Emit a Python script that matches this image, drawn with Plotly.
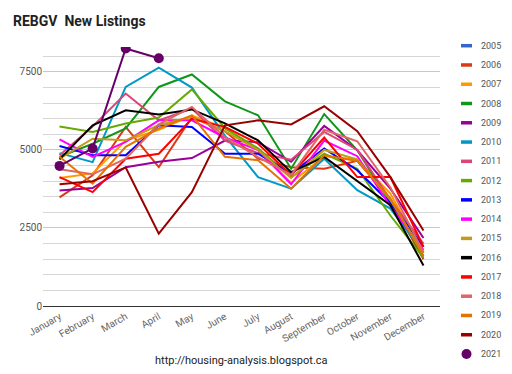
import plotly.graph_objects as go

months = ["January", "February", "March", "April", "May", "June", "July",
          "August", "September", "October", "November", "December"]

years = ["2005", "2006", "2007", "2008", "2009", "2010", "2011", "2012", "2013",
         "2014", "2015", "2016", "2017", "2018", "2019", "2020", "2021"]

colors = ["#3366cc", "#dc3912", "#ff9900", "#109618", "#990099", "#0099c6", "#dd4477",
          "#66aa00", "#0000ff", "#ff00ff", "#c49a17", "#000000", "#ff0000", "#e06666",
          "#e67300", "#990000", "#660066"]

y2005 = [None] * 12
y2006 = [3480, 4190, 5740, 4450, 6050, 5600, 4720, 4450, 4400, 4650, 3400, 1500]
y2007 = [4100, 4250, 5300, 5650, 6100, 5700, 5000, 3950, 4800, 4700, 3600, 1700]
y2008 = [4780, 5200, 5690, 7020, 7420, 6560, 6110, 4400, 6150, 4990, 3300, 1600]
y2009 = [3700, 3780, 4450, 4620, 4740, 5300, 5250, 4620, 5770, 4990, 3760, 2180]
y2010 = [4900, 4610, 7020, 7640, 7000, 5450, 4130, 3760, 4720, 3710, 3120, 1730]
y2011 = [4830, 5750, 6810, 5950, 6330, 5300, 4900, 4690, 5580, 5010, 3400, 2000]
y2012 = [5750, 5580, 5850, 6040, 6940, 5700, 5050, 4130, 4880, 4400, 2900, 1550]
y2013 = [5130, 4830, 4830, 5790, 5740, 4880, 4880, 4240, 5050, 4350, 3300, 1900]
y2014 = [5340, 4780, 5260, 5950, 5950, 5400, 5000, 3900, 5300, 4800, 3200, 1800]
y2015 = [4720, 5360, 5310, 5800, 6060, 5600, 5000, 4100, 5000, 4700, 3400, 1700]
y2016 = [4700, 5790, 6270, 6140, 6300, 5850, 5310, 4290, 4780, 4000, 3230, 1300]
y2017 = [4130, 3650, 4720, 4880, 6000, 5740, 5200, 4200, 5400, 4130, 4130, 1890]
y2018 = [4380, 4220, 4720, 5820, 6380, 5410, 4770, 4200, 5650, 5280, 3800, 1720]
y2019 = [4780, 3920, 5100, 5690, 6110, 4780, 4670, 3760, 4830, 4650, 3450, 1600]
y2020 = [3900, 4000, 4440, 2320, 3650, 5790, 5950, 5820, 6400, 5600, 4130, 2420]
y2021 = [4490, 5050, 8250, 7940, None, None, None, None, None, None, None, None]

series = [y2005, y2006, y2007, y2008, y2009, y2010, y2011, y2012, y2013,
          y2014, y2015, y2016, y2017, y2018, y2019, y2020, y2021]

W, H = 512, 374
L, R, T, B = 43, 72, 47, 68
pw, ph = W - L - R, H - T - B

fig = go.Figure()
for yr, col, vals in zip(years, colors, series):
    if yr == "2021":
        fig.add_trace(go.Scatter(x=months, y=vals, name=yr, mode="lines+markers",
                                 line=dict(color=col, width=2),
                                 marker=dict(color=col, size=10),
                                 showlegend=False))
    else:
        fig.add_trace(go.Scatter(x=months, y=vals, name=yr, mode="lines",
                                 line=dict(color=col, width=2), showlegend=False))


def px_x(p):
    return (p - L) / pw


def px_y(p):
    return (H - B - p) / ph


shapes = []
annotations = []
for i, (yr, col) in enumerate(zip(years, colors)):
    cy = 45.7 + 19.27 * i
    if yr == "2021":
        shapes.append(dict(type="circle", xref="paper", yref="paper",
                           x0=px_x(461.5), x1=px_x(471.5), y0=px_y(cy - 5), y1=px_y(cy + 5),
                           fillcolor=col, line=dict(color=col, width=0)))
    else:
        shapes.append(dict(type="line", xref="paper", yref="paper",
                           x0=px_x(461), x1=px_x(472), y0=px_y(cy), y1=px_y(cy),
                           line=dict(color=col, width=3.5)))
    annotations.append(dict(text=yr, xref="paper", yref="paper", x=px_x(479), y=px_y(cy),
                            xanchor="left", yanchor="middle", showarrow=False,
                            font=dict(family="Roboto", size=9, color="#555555")))

annotations.append(dict(text="http://housing-analysis.blogspot.ca", xref="paper", yref="paper",
                        x=0.5, y=px_y(360), xanchor="center", yanchor="middle", showarrow=False,
                        font=dict(family="Roboto", size=11, color="#222222")))

fig.update_layout(
    width=W, height=H,
    margin=dict(l=L, r=R, t=T, b=B),
    paper_bgcolor="white", plot_bgcolor="white",
    title=dict(text="<b>REBGV  New Listings</b>", x=13 / W, xanchor="left",
               y=1 - 21 / H, yanchor="middle",
               font=dict(family="Roboto", size=14, color="#222222")),
    shapes=shapes, annotations=annotations,
    showlegend=False,
    font=dict(family="Roboto"),
)
fig.update_xaxes(type="category", range=[-0.5, 11.5], tickangle=-30,
                 showgrid=False, showline=True, linecolor="#333333", linewidth=1,
                 ticks="", tickfont=dict(size=10, color="#666666"), zeroline=False)
fig.update_yaxes(range=[0, 8300], tickvals=[0, 2500, 5000, 7500],
                 ticktext=["0", "2500", "5000", "7500"],
                 showgrid=True, gridcolor="#c8c8c8", gridwidth=1,
                 minor=dict(dtick=500, tick0=0, showgrid=True, gridcolor="#d6d6d6", gridwidth=1),
                 zeroline=False, showline=False, ticks="",
                 tickfont=dict(size=10, color="#555555"))

fig.write_html("out.html", config={"displayModeBar": False},
               post_script="document.body.style.margin='0';")
